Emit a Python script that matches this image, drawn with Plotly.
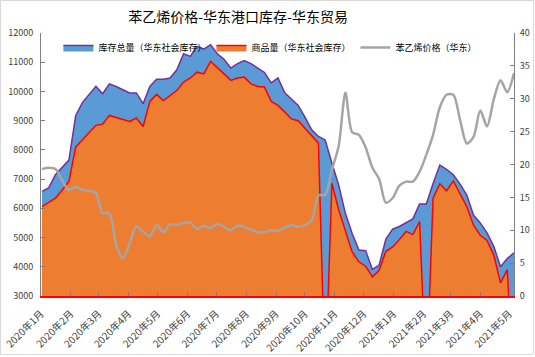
import plotly.graph_objects as go
import pandas as pd

# weekly dates (Thursdays)
dates = pd.date_range('2020-01-02', periods=71, freq='7D').strftime('%Y-%m-%d').tolist()

total_stock = [6580, 6700, 7150, 7400, 7650, 9170, 9620, 9900, 10170, 9920,
               10260, 10170, 10070, 9950, 9950, 9580, 10170, 10420, 10420, 10460,
               10740, 11290, 11200, 11540, 11450, 11600, 11290, 11100, 10800, 10950,
               11060, 10950, 10800, 10650, 10290, 10460, 9950, 9750, 9520, 9120,
               8690, 8460, 8340, 7540, 6800, 5820, 5140, 4570, 4550, 3910,
               4060, 4950, 5290, 5380, 5520, 5640, 6150, 6150, 6850, 7480,
               7330, 7150, 6830, 6450, 5760, 5500, 5160, 4700, 4000, 4280,
               4480]

goods_stock = [6060, 6200, 6350, 6630, 6920, 8100, 8340, 8600, 8840, 8880,
               9180, 9110, 9050, 8970, 9090, 8800, 9660, 9900, 9690, 9850,
               10030, 10320, 10460, 10660, 10600, 11030, 10800, 10600, 10380, 10460,
               10490, 10260, 10170, 10150, 9660, 9520, 9300, 9060, 9000, 8750,
               8480, 8230, 0, 6860, 5950, 5250, 4510, 4170, 4020, 3660,
               3880, 4530, 4680, 4930, 5210, 5100, 5550, 0, 6350, 6840,
               6600, 6940, 6500, 6060, 5420, 5080, 4900, 4400, 3450, 3900,
               0]

price = [19.3, 19.5, 19.3, 17.6, 16.1, 16.6, 16.1, 16.0, 15.7, 12.6,
         12.6, 7.8, 5.7, 8.0, 10.6, 9.8, 9.1, 10.8, 9.7, 10.9,
         10.8, 11.1, 11.2, 10.2, 10.7, 10.3, 11.0, 10.5, 10.0, 10.7,
         10.5, 10.1, 9.7, 9.7, 10.0, 9.9, 10.4, 10.8, 10.5, 10.8,
         11.5, 15.3, 15.4, 19.2, 22.8, 30.9, 24.9, 24.5, 22.6, 19.5,
         17.8, 14.2, 14.9, 16.8, 17.4, 17.4, 18.9, 21.5, 24.5, 28.7,
         30.6, 30.6, 26.8, 23.2, 24.2, 28.2, 25.8, 29.9, 32.8, 31.0,
         33.9]

tick_vals = ['2020-01-01', '2020-02-01', '2020-03-01', '2020-04-01', '2020-05-01',
             '2020-06-01', '2020-07-01', '2020-08-01', '2020-09-01', '2020-10-01',
             '2020-11-01', '2020-12-01', '2021-01-01', '2021-02-01', '2021-03-01',
             '2021-04-01', '2021-05-01']
tick_text = ['2020年1月', '2020年2月', '2020年3月', '2020年4月', '2020年5月',
             '2020年6月', '2020年7月', '2020年8月', '2020年9月', '2020年10月',
             '2020年11月', '2020年12月', '2021年1月', '2021年2月', '2021年3月',
             '2021年4月', '2021年5月']

FONT = "Noto Sans CJK SC"

fig = go.Figure()
fig.add_trace(go.Scatter(x=dates, y=total_stock, name='库存总量（华东社会库存）', mode='lines',
                         fill='tozeroy', fillcolor='#5B9BD5',
                         line=dict(color='#7030A0', width=1.5)))
fig.add_trace(go.Scatter(x=dates, y=goods_stock, name='商品量（华东社会库存）', mode='lines',
                         fill='tozeroy', fillcolor='#ED7D31',
                         line=dict(color='#FF0000', width=1.5)))
fig.add_trace(go.Scatter(x=dates, y=price, name='苯乙烯价格（华东）', mode='lines',
                         line=dict(color='#A5A5A5', width=2.5, shape='spline', smoothing=0.8),
                         yaxis='y2'))

fig.update_layout(
    width=535, height=357,
    margin=dict(l=41, r=21, t=33, b=61, autoexpand=False),
    paper_bgcolor='white', plot_bgcolor='white',
    font=dict(family=FONT, size=9, color='#404040'),
    title=dict(text='苯乙烯价格-华东港口库存-华东贸易', x=0.445, xanchor='center',
               y=0.952, yanchor='middle', font=dict(family=FONT, size=14, color='#000000')),
    showlegend=True,
    legend=dict(orientation='h', x=0.485, xanchor='center', y=1.0, yanchor='top',
                bgcolor='rgba(0,0,0,0)', font=dict(family=FONT, size=9, color='#000000'),
                itemwidth=30),
    xaxis=dict(type='date', range=['2020-01-01', '2021-05-06'], automargin=False,
               tickvals=tick_vals, ticktext=tick_text, tickangle=-45,
               ticks='inside', ticklen=4, tickcolor='#7F7F7F',
               showline=True, linecolor='#FF0000', linewidth=2,
               showgrid=False, zeroline=False, ticklabelstandoff=6,
               tickfont=dict(family=FONT, size=10, color='#404040')),
    yaxis=dict(range=[3000, 12000], dtick=1000, tickformat='d', ticks='inside', ticklen=4,
               tickcolor='#7F7F7F', showline=True, linecolor='#7F7F7F', linewidth=1,
               showgrid=False, zeroline=False, ticklabelstandoff=5, automargin=False,
               tickfont=dict(family=FONT, size=9, color='#404040')),
    yaxis2=dict(range=[0, 40], dtick=5, overlaying='y', side='right',
                ticks='inside', ticklen=4, tickcolor='#7F7F7F',
                showline=True, linecolor='#7F7F7F', linewidth=1,
                showgrid=False, zeroline=False, ticklabelstandoff=3, automargin=False,
                tickfont=dict(family=FONT, size=9, color='#404040')),
    shapes=[dict(type='rect', xref='paper', yref='paper',
                 x0=-0.0856, x1=1.0412, y0=-0.2224, y1=1.1236,
                 line=dict(color='#D9D9D9', width=1), fillcolor='rgba(0,0,0,0)', layer='above')],
)

fig.write_html("out.html", config={'displayModeBar': False},
               post_script="document.body.style.margin='0';document.body.style.padding='0';")
